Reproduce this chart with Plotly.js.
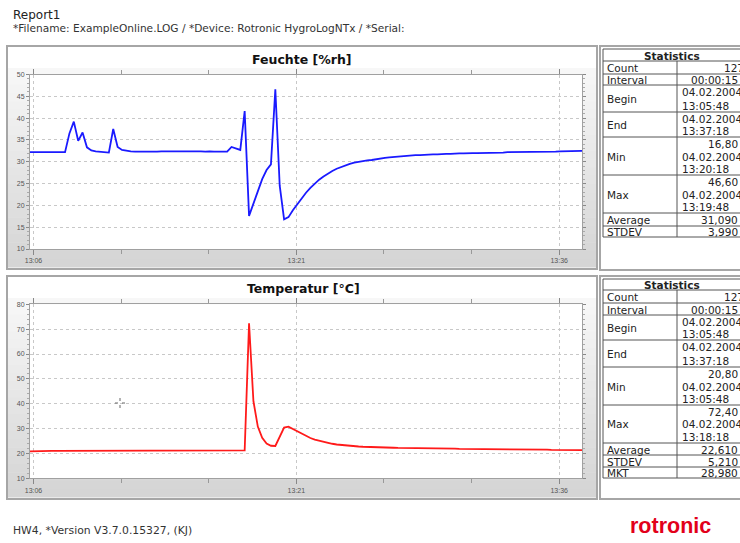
<!DOCTYPE html>
<html><head><meta charset="utf-8">
<script src="https://cdn.plot.ly/plotly-3.0.1.min.js"></script>
<style>html,body{margin:0;padding:0;background:#fff;overflow:hidden}#chart{width:740px;height:543px}</style>
</head><body><div id="chart"></div>
<script>
// ---------------- data ----------------
const startTime = [2004, 1, 4, 13, 5, 48]; // 04.02.2004 13:05:48 (UTC-naive)
const intervalSeconds = 15;

const humidity = [
  32.2, 32.2, 32.2, 32.2, 32.2, 32.2, 32.2, 32.2, 32.2, 36.5,
  39.2, 34.8, 36.7, 33.3, 32.6, 32.4, 32.3, 32.2, 32.1, 37.5,
  33.4, 32.7, 32.5, 32.4, 32.3, 32.3, 32.2, 32.2, 32.3, 32.3,
  32.4, 32.4, 32.5, 32.5, 32.5, 32.4, 32.4, 32.4, 32.4, 32.4,
  32.3, 32.4, 32.3, 32.3, 32.3, 32.3, 33.4, 33.0, 32.7, 41.6,
  17.6, 20.4, 23.4, 26.0, 28.1, 29.4, 46.6, 24.5, 16.8, 17.3,
  18.9, 20.3, 21.7, 22.9, 24.0, 25.0, 25.9, 26.6, 27.3, 27.9,
  28.4, 28.8, 29.2, 29.5, 29.8, 30.0, 30.2, 30.3, 30.4, 30.6,
  30.8, 30.9, 31.0, 31.1, 31.2, 31.3, 31.3, 31.4, 31.5, 31.5,
  31.6, 31.6, 31.7, 31.7, 31.8, 31.8, 31.8, 31.9, 31.9, 31.9,
  32.0, 32.0, 32.0, 32.0, 32.1, 32.1, 32.1, 32.1, 32.1, 32.2,
  32.2, 32.2, 32.2, 32.2, 32.2, 32.3, 32.3, 32.3, 32.3, 32.3,
  32.3, 32.4, 32.4, 32.4, 32.4, 32.4, 32.5
];

const temperature = [
  20.8, 20.9, 20.9, 20.9, 21.0, 21.0, 21.0, 21.0, 21.0, 21.0,
  21.0, 21.0, 21.0, 21.0, 21.1, 21.1, 21.1, 21.1, 21.1, 21.1,
  21.1, 21.1, 21.1, 21.1, 21.1, 21.1, 21.1, 21.1, 21.1, 21.0,
  21.0, 21.0, 21.0, 21.0, 21.1, 21.1, 21.1, 21.1, 21.1, 21.1,
  21.1, 21.0, 21.0, 21.0, 21.1, 21.1, 21.1, 21.1, 21.1, 21.2,
  72.4, 41.0, 30.8, 26.3, 24.0, 23.1, 23.0, 27.0, 30.4, 30.8,
  29.9, 28.9, 27.9, 27.0, 26.2, 25.6, 25.1, 24.6, 24.2, 23.9,
  23.6, 23.4, 23.2, 23.0, 22.9, 22.8, 22.7, 22.6, 22.5, 22.5,
  22.4, 22.4, 22.3, 22.3, 22.2, 22.2, 22.2, 22.1, 22.1, 22.1,
  22.0, 22.0, 22.0, 22.0, 21.9, 21.9, 21.9, 21.9, 21.8, 21.8,
  21.8, 21.8, 21.8, 21.7, 21.7, 21.7, 21.7, 21.7, 21.6, 21.6,
  21.6, 21.6, 21.6, 21.5, 21.5, 21.5, 21.5, 21.5, 21.5, 21.4,
  21.4, 21.4, 21.4, 21.4, 21.3, 21.3, 21.3
];

const humidityTicks = [10, 15, 20, 25, 30, 35, 40, 45, 50];
const temperatureTicks = [10, 20, 30, 40, 50, 60, 70, 80];

const humidityTitle = 'Feuchte [%rh]';
const temperatureTitle = 'Temperatur [°C]';

const statLabelsH = ['Count', 'Interval', 'Begin', 'End', 'Min', 'Max', 'Average', 'STDEV'];
const statValuesH = [['127'], ['00:00:15'], ['04.02.2004', '13:05:48'], ['04.02.2004', '13:37:18'],
  ['16,80', '04.02.2004', '13:20:18'], ['46,60', '04.02.2004', '13:19:48'], ['31,090'], ['3,990']];
const statLabelsT = ['Count', 'Interval', 'Begin', 'End', 'Min', 'Max', 'Average', 'STDEV', 'MKT'];
const statValuesT = [['127'], ['00:00:15'], ['04.02.2004', '13:05:48'], ['04.02.2004', '13:37:18'],
  ['20,80', '04.02.2004', '13:05:48'], ['72,40', '04.02.2004', '13:18:18'], ['22,610'], ['5,210'], ['28,980']];

const reportTitle = 'Report1';
const reportSubtitle = '*Filename: ExampleOnline.LOG / *Device: Rotronic HygroLogNTx / *Serial:';
const footerText = 'HW4, *Version V3.7.0.15327, (KJ)';
const logoText = 'rotronic';

// ---------------- layout helpers ----------------
const W = 740, H = 543;
const px = x => x / W;
const py = y => 1 - y / H;
const t0 = Date.UTC(startTime[0], startTime[1], startTime[2], startTime[3], startTime[4], startTime[5]);
const times = humidity.map((_, i) => t0 + i * intervalSeconds * 1000);

const shapes = [];
const annotations = [];
function rect(x0, y0, x1, y1, o) {
  shapes.push(Object.assign({type: 'rect', xref: 'paper', yref: 'paper',
    x0: px(x0), x1: px(x1), y0: py(y1), y1: py(y0)}, o));
}
function seg(x0, y0, x1, y1, color, width, layer) {
  shapes.push({type: 'line', xref: 'paper', yref: 'paper', x0: px(x0), x1: px(x1), y0: py(y0), y1: py(y1),
    line: {color: color, width: width}, layer: layer || 'above'});
}
function txt(x, y, text, o, font) {
  annotations.push(Object.assign({xref: 'paper', yref: 'paper', x: px(x), y: py(y), text: text,
    showarrow: false, xanchor: 'left', yanchor: 'middle', borderpad: 0,
    font: Object.assign({family: 'DejaVu Sans, Verdana, sans-serif', size: 10.5, color: '#222'}, font || {})}, o || {}));
}
function hex(v) { const s = Math.round(v).toString(16); return s.length < 2 ? '0' + s : s; }

// chart panel: border, gradient, white plot area
function panel(top, bottom, gradTop, plotTop, plotBottom) {
  const n = 24, c0 = 248, c1 = 212;
  for (let k = 0; k < n; k++) {
    const a = gradTop + (bottom - 2 - gradTop) * k / n;
    const b = gradTop + (bottom - 2 - gradTop) * (k + 1) / n;
    const c = c0 + (c1 - c0) * (k + 0.5) / n;
    const col = '#' + hex(c) + hex(c) + hex(c);
    rect(8, a, 596, b + 0.5, {fillcolor: col, line: {width: 0}, layer: 'below'});
  }
  rect(30, plotTop, 582, plotBottom, {fillcolor: '#ffffff', line: {width: 0}, layer: 'below'});
  rect(7, top, 597, bottom, {fillcolor: 'rgba(0,0,0,0)', line: {color: '#a6a6a6', width: 2}, layer: 'above'});
}
panel(46, 269, 68, 74.5, 249);
panel(276, 499, 298, 304.3, 478.3);

txt(302, 59, '<b>' + humidityTitle + '</b>', {xanchor: 'center'}, {size: 12.5, color: '#111'});
txt(303, 288.5, '<b>' + temperatureTitle + '</b>', {xanchor: 'center'}, {size: 12.5, color: '#111'});

// statistics tables
function statTable(panelTop, panelBottom, bounds, labels, values, firstX) {
  rect(600, panelTop, 780, panelBottom, {fillcolor: 'rgba(0,0,0,0)', line: {color: '#a6a6a6', width: 2}, layer: 'above'});
  const tl = 603, tr = 780, div = 677, lc = '#555';
  bounds.forEach(b => seg(tl, b, tr, b, lc, 1));
  seg(tl, bounds[0], tl, bounds[bounds.length - 1], lc, 1);
  seg(div, bounds[1], div, bounds[bounds.length - 1], lc, 1);
  txt(671.5, (bounds[0] + bounds[1]) / 2 + 0.5, '<b>Statistics</b>', {xanchor: 'center'}, {size: 10.5});
  labels.forEach((lab, i) => {
    const a = bounds[i + 1], b = bounds[i + 2];
    txt(606, (a + b) / 2 + 0.5, lab);
    const lines = values[i];
    lines.forEach((v, k) => {
      const yc = a + (b - a) * (k + 0.5) / lines.length + 0.5;
      const x = (k === 0) ? firstX[i] : 681;
      txt(x, yc, v);
    });
  });
}
statTable(46, 270, [49, 61, 74, 85, 112, 137, 175, 213, 226, 237], statLabelsH, statValuesH,
  [723, 690, 681, 681, 707, 707, 700, 707]);
statTable(276, 499, [279, 290, 303, 315, 340, 367, 405, 443, 455, 467, 478], statLabelsT, statValuesT,
  [723, 690, 681, 681, 707, 707, 700, 707, 700]);

// header / footer
txt(12, 15, reportTitle, {}, {size: 12, color: '#222'});
txt(12, 28, reportSubtitle, {}, {size: 10.6, color: '#333'});
txt(12, 530, footerText, {}, {size: 10.8, color: '#333'});
txt(629, 526, '<b>' + logoText + '</b>', {}, {family: 'Liberation Sans Narrow, Arial Narrow, Liberation Sans, sans-serif', size: 21.5, color: '#e2001a'});

// cursor crosshair captured in the screenshot
seg(115, 403, 118, 403, '#666', 1); seg(122, 403, 125, 403, '#666', 1);
seg(120, 398, 120, 401, '#666', 1); seg(120, 405, 120, 408, '#666', 1);

// ---------------- axes ----------------
const tickFont = {family: 'Liberation Sans, Arial, sans-serif', size: 7, color: '#555'};
function xAx(anchor) {
  return {domain: [px(30), px(582)], anchor: anchor, type: 'date',
    range: [times[0], times[times.length - 1]],
    tick0: Date.UTC(2004, 1, 4, 13, 6, 0), dtick: 15 * 60 * 1000, tickformat: '%H:%M',
    ticks: 'outside', ticklen: 5, tickcolor: '#888', tickwidth: 1,
    showline: true, linecolor: '#a0a0a0', linewidth: 1, mirror: 'ticks',
    showgrid: true, gridcolor: '#c8c8c8', griddash: 'dot', gridwidth: 1, zeroline: false,
    minor: {dtick: 5 * 60 * 1000, tick0: Date.UTC(2004, 1, 4, 13, 6, 0), ticks: 'outside', ticklen: 4, tickcolor: '#999', showgrid: false},
    tickfont: tickFont, fixedrange: true};
}
function yAx(domTop, domBottom, ticks, minorStep, anchor) {
  return {domain: [py(domBottom), py(domTop)], anchor: anchor,
    range: [ticks[0], ticks[ticks.length - 1]], tickmode: 'array', tickvals: ticks,
    ticks: 'outside', ticklen: 3, tickcolor: '#888',
    showline: true, linecolor: '#a0a0a0', linewidth: 1, mirror: 'ticks',
    showgrid: true, gridcolor: '#c8c8c8', griddash: 'dot', gridwidth: 1, zeroline: false,
    minor: {dtick: minorStep, tick0: ticks[0], ticks: 'outside', ticklen: 2, tickcolor: '#aaa', showgrid: false},
    tickfont: tickFont, fixedrange: true};
}

const data = [
  {x: times, y: humidity, type: 'scatter', mode: 'lines', xaxis: 'x', yaxis: 'y',
   line: {color: '#1a1aff', width: 1.8}, hoverinfo: 'skip'},
  {x: times, y: temperature, type: 'scatter', mode: 'lines', xaxis: 'x2', yaxis: 'y2',
   line: {color: '#ff1a1a', width: 1.8}, hoverinfo: 'skip'}
];

const layout = {
  width: W, height: H, autosize: false,
  margin: {l: 0, r: 0, t: 0, b: 0, pad: 0},
  paper_bgcolor: '#ffffff', plot_bgcolor: 'rgba(0,0,0,0)',
  showlegend: false,
  xaxis: xAx('y'), yaxis: yAx(74.5, 249, humidityTicks, 1, 'x'),
  xaxis2: xAx('y2'), yaxis2: yAx(304.3, 478.3, temperatureTicks, 2, 'x2'),
  shapes: shapes, annotations: annotations
};

Plotly.newPlot('chart', data, layout, {staticPlot: true, displayModeBar: false});
</script></body></html>
